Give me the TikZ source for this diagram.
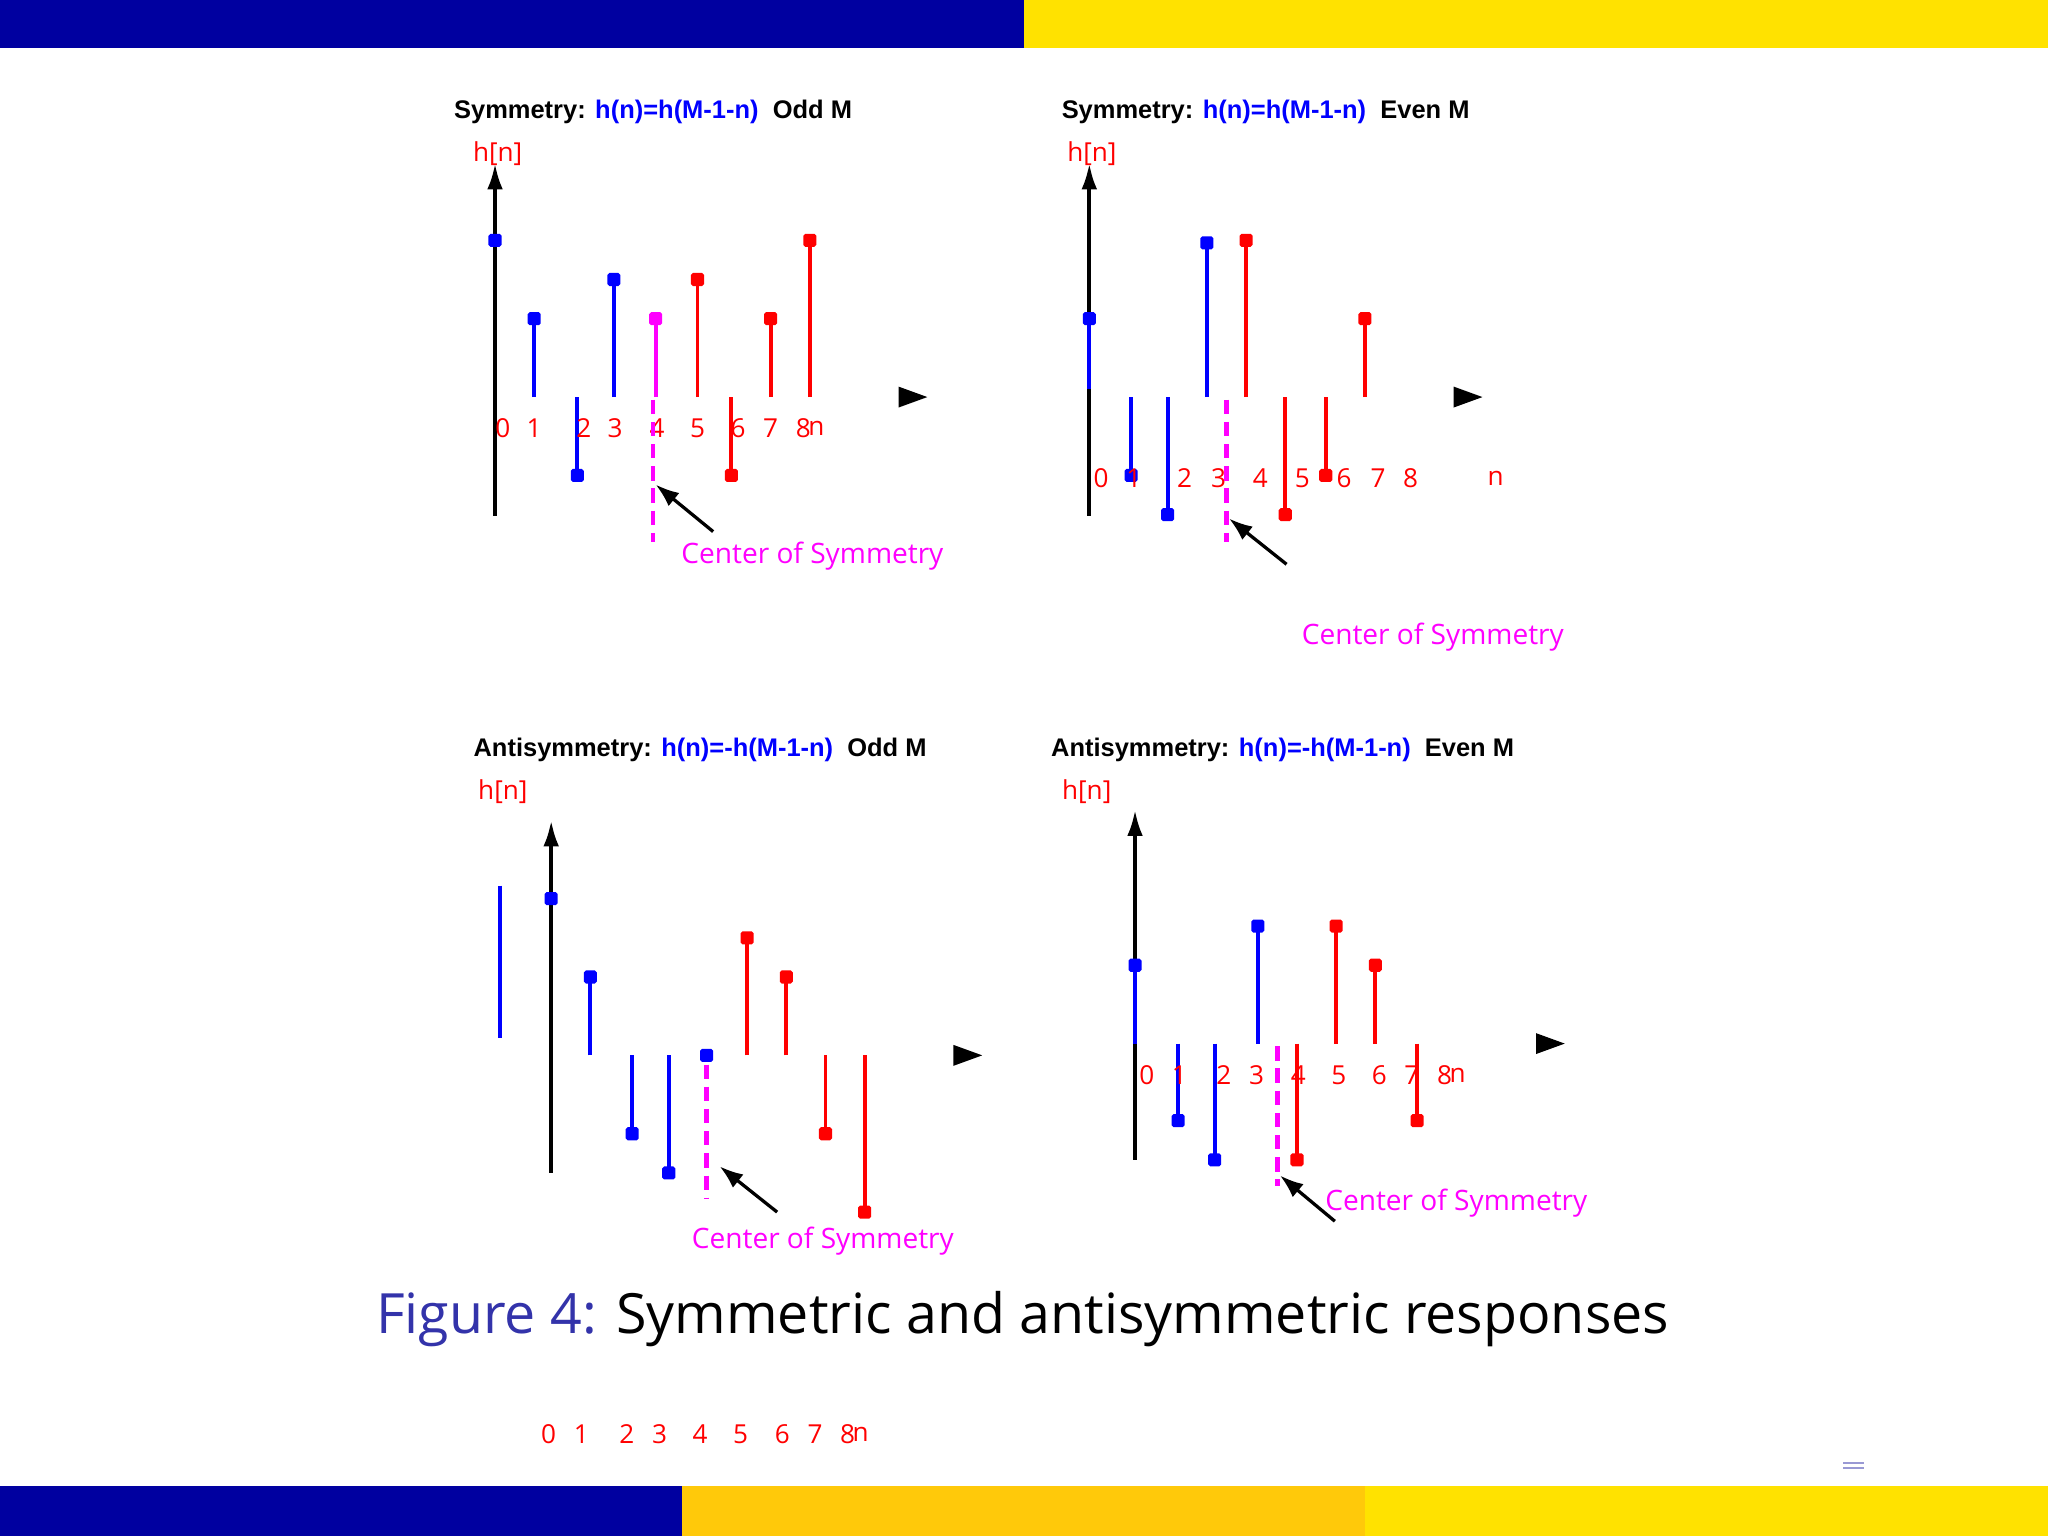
\documentclass[tikz,border=0pt]{standalone}
\usepackage{fontspec}
\setmainfont{Open Sans}
\newfontfamily\arialb{Liberation Sans}
\definecolor{barblue}{HTML}{0000A0}
\definecolor{baryel}{HTML}{FFE200}
\definecolor{barorg}{HTML}{FFC90A}
\definecolor{capblue}{HTML}{3333AA}
\definecolor{mag}{HTML}{FF00FF}
\usetikzlibrary{arrows.meta}
\begin{document}
\begin{tikzpicture}[x=1pt,y=-1pt,
  stem/.style={line width=3pt},
  lbl/.style={text=red,font=\fontsize{20}{22}\selectfont,inner sep=0},
  ttl/.style={font=\arialb\bfseries\fontsize{19.5}{22}\selectfont,inner sep=0},
  cen/.style={text=mag,font=\fontsize{21.5}{24}\selectfont,inner sep=0},
  axis/.style={line width=3pt,-{Latex[length=20pt,width=12pt]}},
  sym/.style={line width=3.5pt,mag,dash pattern=on 11pt off 6pt},
  arr/.style={line width=2.5pt,-{Latex[length=18pt,width=13pt]}}]
\useasboundingbox (0,0) rectangle (1568,1177);
\fill[white] (0,0) rectangle (1568,1177);
\fill[barblue] (0,0) rectangle (784,37);
\fill[baryel] (784,0) rectangle (1568,37);
\fill[barblue] (0,1138) rectangle (522,1176);
\fill[barorg] (522,1138) rectangle (1045,1176);
\fill[baryel] (1045,1138) rectangle (1568,1176);
\newcommand{\stm}[4]{\draw[stem,#4] (#1,#2) -- (#1,#3); \fill[#4,rounded corners=1.5pt] (#1-5,#3-5) rectangle (#1+5,#3+5);}
\newcommand{\dotq}[3]{\fill[#3,rounded corners=1.5pt] (#1-5,#2-5) rectangle (#1+5,#2+5);}
\newcommand{\tri}[2]{\fill (#1-10,#2-8) -- (#1+12,#2) -- (#1-10,#2+8) -- cycle;}
% ---------- panel 1
\node[ttl] (t1) at (500,86) {Symmetry: \textcolor{blue}{h(n)=h(M-1-n)}\ \ Odd M};
\node[lbl] (h1) at (381,118) {h[n]};
\draw[axis] (379,395) -- (379,125);
\dotq{379}{184}{blue}
\stm{409}{304}{244}{blue}
\stm{442}{304}{364}{blue}
\stm{470}{304}{214}{blue}
\stm{502}{304}{244}{mag}
\stm{534}{304}{214}{red}
\stm{560}{304}{364}{red}
\stm{590}{304}{244}{red}
\stm{620}{304}{184}{red}
\tri{698}{304}
\foreach \x/\t in {385/0,409/1,447/2,471/3,503/4,534/5,565/6,590/7,615/8,625/n} \node[lbl] at (\x,328) {\t};
\draw[sym] (500,306) -- (500,415);
\coordinate (a1) at (546,407); \coordinate (b1) at (502,371);
\draw[arr] (a1) -- (b1);
\node[cen] (c1) at (622,426) {Center of Symmetry};
% ---------- panel 2
\node[ttl] (t2) at (969,86) {Symmetry: \textcolor{blue}{h(n)=h(M-1-n)}\ \ Even M};
\node[lbl] (h2) at (836,118) {h[n]};
\draw[axis] (834,395) -- (834,125);
\stm{834}{298}{244}{blue}
\stm{866}{304}{364}{blue}
\stm{894}{304}{394}{blue}
\stm{924}{304}{186}{blue}
\stm{954}{304}{184}{red}
\stm{984}{304}{394}{red}
\stm{1015}{304}{364}{red}
\stm{1045}{304}{244}{red}
\tri{1123}{304}
\foreach \x/\t in {843/0,868/1,907/2,933/3,965/4,997/5,1029/6,1055/7,1080/8,1145/n} \node[lbl] at (\x,366) {\t};
\draw[sym] (939,306) -- (939,415);
\coordinate (a2) at (985,432); \coordinate (b2) at (941,397);
\draw[arr] (a2) -- (b2);
\node[cen] (c2) at (1097,488) {Center of Symmetry};
% ---------- panel 3
\node[ttl] (t3) at (536,574) {Antisymmetry: \textcolor{blue}{h(n)=-h(M-1-n)}\ \ Odd M};
\node[lbl] (h3) at (385,606) {h[n]};
\draw[stem,blue] (383,678) -- (383,795);
\draw[axis] (422,898) -- (422,628);
\dotq{422}{688}{blue}
\stm{452}{808}{748}{blue}
\stm{484}{808}{868}{blue}
\stm{512}{808}{898}{blue}
\dotq{541}{808}{blue}
\stm{572}{808}{718}{red}
\stm{602}{808}{748}{red}
\stm{632}{808}{868}{red}
\stm{662}{808}{928}{red}
\tri{740}{808}
\draw[sym] (541,815) -- (541,918);
\coordinate (a3) at (595,928); \coordinate (b3) at (551,893);
\draw[arr] (a3) -- (b3);
\node[cen] (c3) at (630,950) {Center of Symmetry};
% ---------- panel 4
\node[ttl] (t4) at (982,574) {Antisymmetry: \textcolor{blue}{h(n)=-h(M-1-n)}\ \ Even M};
\node[lbl] (h4) at (832,606) {h[n]};
\draw[axis] (869,888) -- (869,620);
\stm{869}{799}{739}{blue}
\stm{902}{799}{858}{blue}
\stm{930}{799}{888}{blue}
\stm{963}{799}{709}{blue}
\stm{993}{799}{888}{red}
\stm{1023}{799}{709}{red}
\stm{1053}{799}{739}{red}
\stm{1085}{799}{858}{red}
\tri{1186}{799}
\foreach \x/\t in {878/0,903/1,937/2,962/3,994/4,1025/5,1056/6,1081/7,1106/8,1116/n} \node[lbl] at (\x,823) {\t};
\draw[sym] (978,801) -- (978,908);
\coordinate (a4) at (1022,935); \coordinate (b4) at (980,900);
\draw[arr] (a4) -- (b4);
\node[cen] (c4) at (1115,921) {Center of Symmetry};
% ---------- caption and stray labels
\node[font=\fontsize{42.5}{48}\selectfont,inner sep=0] (cap) at (783,1010) {\textcolor{capblue}{Figure 4:} Symmetric and antisymmetric responses};
\foreach \x/\t in {420/0,445/1,480/2,505/3,536/4,567/5,599/6,624/7,649/8,659/n} \node[lbl] at (\x,1098) {\t};
\fill[capblue!50] (1411,1119) rectangle (1427,1121);
\fill[capblue!50] (1411,1123) rectangle (1427,1125);
\end{tikzpicture}
\end{document}
